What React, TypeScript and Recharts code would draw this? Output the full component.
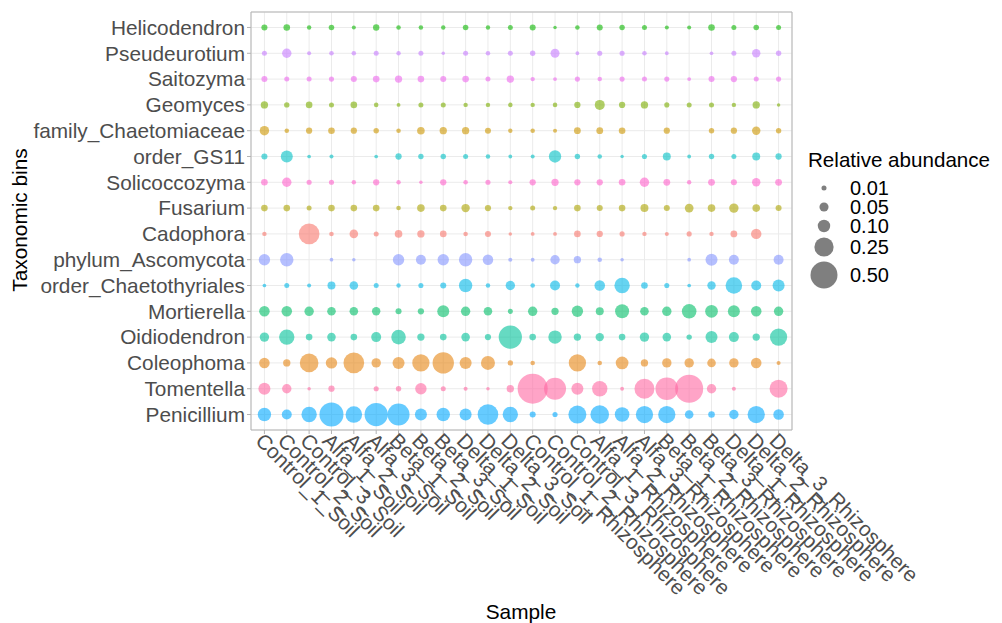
import {
  ScatterChart,
  Scatter,
  XAxis,
  YAxis,
  ZAxis,
  CartesianGrid,
  ReferenceArea,
} from 'recharts';

const samples = [
  'Control_1_Soil', 'Control_2_Soil', 'Control_3_Soil',
  'Alfa_1_Soil', 'Alfa_2_Soil', 'Alfa_3_Soil',
  'Beta_1_Soil', 'Beta_2_Soil', 'Beta_3_Soil',
  'Delta_1_Soil', 'Delta_2_Soil', 'Delta_3_Soil',
  'Control_1_Rhizosphere', 'Control_2_Rhizosphere', 'Control_3_Rhizosphere',
  'Alfa_1_Rhizosphere', 'Alfa_2_Rhizosphere', 'Alfa_3_Rhizosphere',
  'Beta_1_Rhizosphere', 'Beta_2_Rhizosphere', 'Beta_3_Rhizosphere',
  'Delta_1_Rhizosphere', 'Delta_2_Rhizosphere', 'Delta_3_Rhizosphere',
];

// top to bottom, as drawn
const taxa = [
  'Helicodendron', 'Pseudeurotium', 'Saitozyma', 'Geomyces',
  'family_Chaetomiaceae', 'order_GS11', 'Solicoccozyma', 'Fusarium',
  'Cadophora', 'phylum_Ascomycota', 'order_Chaetothyriales', 'Mortierella',
  'Oidiodendron', 'Coleophoma', 'Tomentella', 'Penicillium',
];

const taxonColors = [
  '#0CB702', '#C77CFF', '#ED68ED', '#7CAE00',
  '#CD9600', '#00BFC4', '#FF61CC', '#ABA300',
  '#F8766D', '#8494FF', '#00B8E7', '#00BE67',
  '#00C19A', '#E68613', '#FF68A1', '#00A9FF',
];

type V = number | null;

const helicodendron: V[] = [0.018, 0.023, 0.006, 0.014, 0.004, 0.021, 0.007, 0.007, 0.006, 0.014, 0.006, 0.010, 0.018, 0.001, 0.007, 0.018, 0.013, 0.010, 0.004, 0.004, 0.023, 0.010, 0.014, 0.010];
const pseudeurotium: V[] = [0.010, 0.054, 0.004, 0.007, 0.007, 0.010, 0.006, 0.010, 0.001, 0.010, 0.007, 0.010, 0.013, 0.049, 0.003, 0.011, 0.011, 0.007, 0.003, null, 0.002, 0.010, 0.042, 0.013];
const saitozyma: V[] = [0.018, 0.010, 0.010, 0.011, 0.018, 0.023, 0.030, 0.023, 0.018, 0.023, 0.010, 0.030, 0.006, 0.003, 0.011, 0.007, 0.011, 0.010, 0.011, 0.003, 0.018, 0.020, 0.010, 0.011];
const geomyces: V[] = [0.030, 0.013, 0.023, 0.010, 0.023, 0.007, 0.003, 0.010, 0.010, 0.006, 0.006, 0.007, 0.006, 0.007, 0.020, 0.062, 0.020, 0.030, 0.011, 0.010, 0.010, 0.006, 0.030, 0.001];
const chaetomiaceae: V[] = [0.054, 0.007, 0.020, 0.023, 0.020, 0.013, 0.007, 0.033, 0.030, 0.030, 0.018, 0.006, 0.007, 0.004, 0.025, 0.025, 0.023, null, 0.020, null, 0.013, 0.020, 0.042, 0.013];
const orderGS11: V[] = [0.018, 0.093, 0.002, 0.004, null, 0.002, 0.020, 0.013, 0.013, 0.010, 0.007, 0.003, 0.004, 0.099, 0.013, 0.007, 0.001, 0.011, 0.037, 0.003, 0.013, 0.010, 0.037, 0.020];
const solicoccozyma: V[] = [0.023, 0.054, 0.011, 0.011, 0.006, 0.020, 0.006, 0.001, 0.020, 0.007, 0.011, 0.004, 0.020, 0.030, 0.020, 0.020, 0.023, 0.054, 0.025, 0.006, 0.025, 0.018, 0.042, 0.025];
const fusarium: V[] = [0.023, 0.023, 0.010, 0.023, 0.023, 0.023, 0.007, 0.033, 0.023, 0.042, 0.020, 0.006, 0.010, 0.006, 0.023, 0.018, 0.023, 0.037, 0.018, 0.046, 0.033, 0.054, 0.033, 0.018];
const cadophora: V[] = [0.006, null, 0.29, 0.007, 0.044, 0.010, 0.033, 0.030, 0.023, 0.007, 0.018, 0.001, 0.003, 0.003, 0.023, 0.020, 0.011, 0.006, 0.004, 0.011, 0.006, 0.025, 0.068, null];
const ascomycota: V[] = [0.083, 0.118, null, 0.002, 0.001, null, 0.083, 0.062, 0.083, 0.118, 0.070, 0.004, 0.003, 0.054, 0.030, 0.007, 0.001, null, null, 0.002, 0.093, 0.062, null, 0.062];
const chaetothyriales: V[] = [0.002, 0.010, 0.004, 0.037, 0.044, 0.010, 0.006, 0.011, 0.018, 0.118, 0.007, 0.054, 0.007, 0.062, 0.006, 0.070, 0.157, 0.023, 0.011, 0.002, 0.042, 0.184, 0.062, 0.093];
const mortierella: V[] = [0.070, 0.070, 0.054, 0.044, 0.044, 0.042, 0.018, 0.020, 0.093, 0.054, 0.044, 0.011, 0.054, 0.030, 0.083, 0.037, 0.129, 0.044, 0.054, 0.141, 0.105, 0.093, 0.070, 0.054];
const oidiodendron: V[] = [0.054, 0.157, 0.023, 0.044, 0.023, 0.062, 0.141, 0.030, 0.023, 0.044, 0.020, 0.37, 0.023, 0.118, 0.030, 0.042, 0.023, 0.054, 0.044, 0.013, 0.093, 0.062, 0.030, 0.20];
const coleophoma: V[] = [0.070, 0.030, 0.234, 0.083, 0.29, 0.054, 0.093, 0.20, 0.31, 0.093, 0.129, 0.013, 0.007, null, 0.20, 0.007, 0.105, 0.030, 0.054, 0.054, 0.044, 0.054, 0.070, 0.004];
const tomentella: V[] = [0.093, 0.054, 0.001, 0.020, null, 0.011, 0.013, 0.083, 0.010, 0.004, 0.001, 0.030, 0.62, 0.33, 0.093, 0.157, 0.003, 0.27, 0.35, 0.54, 0.054, 0.004, null, 0.218];
const penicillium: V[] = [0.118, 0.062, 0.157, 0.394, 0.184, 0.37, 0.33, 0.093, 0.118, 0.093, 0.29, 0.157, 0.018, 0.011, 0.218, 0.234, 0.141, 0.20, 0.20, 0.044, 0.023, 0.054, 0.20, 0.070];

const taxonValues = [
  helicodendron, pseudeurotium, saitozyma, geomyces,
  chaetomiaceae, orderGS11, solicoccozyma, fusarium,
  cadophora, ascomycota, chaetothyriales, mortierella,
  oidiodendron, coleophoma, tomentella, penicillium,
];

const legendValues = [0.01, 0.05, 0.1, 0.25, 0.5];
const legendLabels = ['0.01', '0.05', '0.10', '0.25', '0.50'];

const font = '"Liberation Sans", Arial, sans-serif';
const zRange: [number, number] = [8.36, 1136];

const series = taxa.map((name, i) => ({
  name,
  color: taxonColors[i],
  data: taxonValues[i]
    .map((v, j) => (v === null ? null : { x: j + 1, y: taxa.length - i, z: v }))
    .filter((d) => d !== null),
}));

const xTicks = samples.map((_, i) => i + 1);
const yTicks = taxa.map((_, i) => i + 1);

function XTick({ x, y, payload }: any) {
  return (
    <g transform={`translate(${x},${y})`}>
      <text
        transform="rotate(45)"
        x={-3}
        y={0}
        dy="0.55em"
        textAnchor="start"
        fontSize={20.8}
        fill="#4d4d4d"
        fontFamily={font}
      >
        {samples[payload.value - 1]}
      </text>
    </g>
  );
}

function legendRadius(v: number) {
  return Math.sqrt((zRange[0] + (zRange[1] - zRange[0]) * v) / Math.PI);
}

const legendY = [188, 207, 226, 247, 275];

export default function App() {
  return (
    <div style={{ position: 'absolute', left: 0, top: 0, width: 1002, height: 623, background: '#fff' }}>
      <ScatterChart width={1002} height={623} margin={{ top: 12, right: 210, bottom: 0, left: 0 }}>
        <CartesianGrid stroke="#ebebeb" strokeWidth={1} />
        <XAxis
          type="number"
          dataKey="x"
          domain={[0.4, 24.6]}
          ticks={xTicks}
          interval={0}
          height={193}
          tickSize={4}
          axisLine={false}
          tickLine={{ stroke: '#b3b3b3' }}
          tick={<XTick />}
        />
        <YAxis
          type="number"
          dataKey="y"
          domain={[0.4, 16.6]}
          ticks={yTicks}
          interval={0}
          width={251}
          tickSize={4}
          tickMargin={2}
          axisLine={false}
          tickLine={{ stroke: '#b3b3b3' }}
          tickFormatter={(v: number) => taxa[taxa.length - v]}
          tick={{ fontSize: 20.8, fill: '#4d4d4d', fontFamily: font }}
        />
        <ZAxis type="number" dataKey="z" domain={[0, 1]} range={zRange} />
        <ReferenceArea x1={0.4} x2={24.6} y1={0.4} y2={16.6} fill="none" stroke="#b3b3b3" strokeWidth={1} />
        {series.map((s) => (
          <Scatter
            key={s.name}
            name={s.name}
            data={s.data}
            fill={s.color}
            fillOpacity={0.6}
            isAnimationActive={false}
          />
        ))}
      </ScatterChart>
      <svg
        width={1002}
        height={623}
        style={{ position: 'absolute', left: 0, top: 0, pointerEvents: 'none' }}
        fontFamily={font}
      >
        <text x={521} y={619} textAnchor="middle" fontSize={20.8} fill="#000">
          Sample
        </text>
        <text
          transform="translate(27,220) rotate(-90)"
          textAnchor="middle"
          fontSize={20.8}
          fill="#000"
        >
          Taxonomic bins
        </text>
        <text x={808} y={167} fontSize={20.6} fill="#000">
          Relative abundance
        </text>
        {legendValues.map((v, i) => (
          <g key={v}>
            <circle cx={824} cy={legendY[i]} r={legendRadius(v)} fill="#000" fillOpacity={0.5} />
            <text x={850} y={legendY[i]} dy="0.36em" fontSize={20} fill="#000">
              {legendLabels[i]}
            </text>
          </g>
        ))}
      </svg>
    </div>
  );
}
